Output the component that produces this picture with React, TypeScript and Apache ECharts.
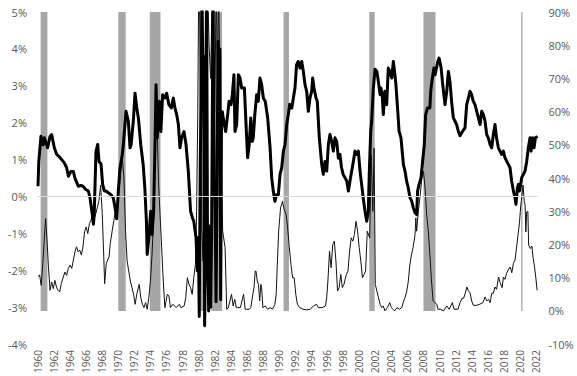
import React, { useEffect, useRef } from "react";
import * as echarts from "echarts";

// NBER recession months (decimal years)
const recessionStart = [1960.33, 1970.0, 1973.92, 1980.08, 1981.58, 1990.58, 2001.25, 2008.0, 2020.17];
const recessionEnd = [1961.17, 1970.92, 1975.25, 1980.58, 1982.92, 1991.25, 2001.92, 2009.5, 2020.33];

// Thick line: yield spread (left axis, %)
const spread: [number, number][] = [
  [1960.0, 0.28], [1960.1, 0.95], [1960.37, 1.63], [1960.66, 1.4], [1960.8, 1.59], [1961.2, 1.32], [1961.5, 1.63],
  [1961.7, 1.68], [1962.03, 1.32], [1962.33, 1.14], [1962.6, 1.09], [1962.95, 1.0], [1963.28, 0.91], [1963.57, 0.78],
  [1963.78, 0.55], [1964.1, 0.68], [1964.4, 0.68], [1964.6, 0.5], [1965.02, 0.28], [1965.35, 0.3], [1965.6, 0.28],
  [1965.94, 0.19], [1966.27, 0.15], [1966.48, -0.04], [1966.77, -0.5], [1966.9, -0.75], [1967.0, -0.49],
  [1967.22, 1.22], [1967.43, 1.41], [1967.6, 0.95], [1967.85, 0.88], [1968.05, 0.33], [1968.26, 0.15],
  [1968.46, 0.15], [1968.76, 0.1], [1969.09, 0.05], [1969.38, -0.04], [1969.59, -0.3], [1969.8, -0.6],
  [1970.0, 0.14], [1970.2, 0.75], [1970.5, 1.14], [1970.63, 1.41], [1970.96, 2.31], [1971.25, 2.04],
  [1971.46, 1.32], [1971.6, 1.41], [1971.87, 2.04], [1972.08, 2.8], [1972.3, 2.4], [1972.5, 2.13],
  [1972.79, 1.41], [1973.1, 0.86], [1973.3, 0.24], [1973.5, -0.67], [1973.6, -1.57], [1973.8, -1.12],
  [1974.03, -0.4], [1974.2, -1.03], [1974.4, -0.4], [1974.57, 1.41], [1974.7, 3.03], [1974.85, 1.59],
  [1975.1, 2.58], [1975.3, 1.76], [1975.52, 2.76], [1975.8, 2.67], [1976.02, 2.8], [1976.3, 2.49],
  [1976.6, 2.4], [1976.85, 2.67], [1977.05, 2.4], [1977.27, 2.22], [1977.48, 1.95], [1977.68, 1.32],
  [1977.88, 1.59], [1978.18, 1.76], [1978.43, 1.41], [1978.72, 0.68], [1979.0, -0.4], [1979.24, -0.58],
  [1979.4, -0.67], [1979.68, -1.12], [1979.84, -2.02], [1979.92, -1.12],
  [1980.0, -1.8], [1980.08, -3.25], [1980.2, 0.8], [1980.3, 2.5], [1980.42, 5.5], [1980.55, 3.0],
  [1980.65, 3.8], [1980.75, -3.5], [1980.88, -1.0], [1981.0, 5.5], [1981.1, -0.7], [1981.25, -3.1],
  [1981.35, -0.8], [1981.5, -3.0], [1981.62, -1.0], [1981.8, 5.5], [1981.92, 0.5], [1982.05, -0.1],
  [1982.17, -2.85], [1982.3, 0.5], [1982.42, 4.2], [1982.55, 1.0], [1982.65, 4.0], [1982.75, -2.8],
  [1982.85, 2.0], [1982.95, 2.3],
  [1983.2, 1.95], [1983.37, 1.76], [1983.62, 2.22], [1983.79, 2.58], [1984.04, 2.49], [1984.2, 2.76],
  [1984.4, 3.3], [1984.53, 1.76], [1984.74, 1.95], [1984.95, 3.3], [1985.15, 3.22], [1985.36, 2.94],
  [1985.7, 2.94], [1985.85, 2.22], [1986.1, 1.05], [1986.3, 1.41], [1986.5, 2.13], [1986.67, 1.49],
  [1986.8, 1.58], [1987.0, 2.22], [1987.23, 2.76], [1987.43, 2.58], [1987.64, 3.21], [1987.85, 3.03],
  [1988.06, 2.67], [1988.3, 2.58], [1988.6, 2.13], [1988.9, 1.32], [1989.1, 0.51], [1989.3, 0.14],
  [1989.5, -0.13], [1989.7, 0.05], [1989.93, 0.05], [1990.14, 0.6], [1990.35, 0.78], [1990.55, 1.22],
  [1990.76, 1.41], [1990.97, 1.95], [1991.17, 2.22], [1991.35, 2.5], [1991.6, 2.4], [1992.0, 2.94],
  [1992.2, 3.57], [1992.4, 3.66], [1992.63, 3.48], [1992.84, 3.66], [1993.04, 3.39], [1993.25, 3.03],
  [1993.46, 2.85], [1993.66, 2.31], [1993.87, 2.67], [1994.08, 2.85], [1994.2, 3.21], [1994.37, 2.94],
  [1994.62, 2.67], [1994.78, 2.58], [1995.03, 1.59], [1995.33, 0.87], [1995.53, 0.6], [1995.74, 0.95],
  [1995.95, 0.69], [1996.16, 1.41], [1996.36, 1.68], [1996.57, 1.49], [1996.77, 1.23], [1996.98, 1.59],
  [1997.2, 1.49], [1997.4, 1.04], [1997.6, 1.14], [1997.8, 0.78], [1998.0, 0.6], [1998.23, 0.51],
  [1998.44, 0.42], [1998.65, 0.15], [1998.85, 0.42], [1999.06, 0.69], [1999.27, 0.95], [1999.47, 1.23],
  [1999.68, 1.14], [1999.89, 1.23], [2000.1, 0.69], [2000.3, 0.33], [2000.5, -0.04], [2000.72, -0.4],
  [2000.93, -0.67], [2001.13, -0.4], [2001.26, 0.69], [2001.43, 1.77], [2001.55, 2.04], [2001.76, 2.94],
  [2001.97, 3.45], [2002.2, 3.39], [2002.38, 3.12], [2002.6, 2.76], [2002.7, 2.94], [2002.86, 2.76],
  [2003.0, 2.22], [2003.2, 2.85], [2003.42, 2.49], [2003.62, 3.48], [2003.82, 3.39], [2004.05, 3.21],
  [2004.25, 3.66], [2004.45, 3.3], [2004.57, 3.03], [2004.8, 2.31], [2004.96, 1.77], [2005.2, 1.59],
  [2005.5, 0.87], [2005.7, 0.69], [2005.9, 0.42], [2006.1, 0.24], [2006.33, -0.04], [2006.5, -0.1],
  [2006.74, -0.31], [2006.95, -0.44], [2007.15, -0.49], [2007.27, 0.15], [2007.45, 0.33], [2007.7, 0.51],
  [2007.86, 0.87], [2008.1, 1.41], [2008.27, 2.22], [2008.5, 2.4], [2008.8, 2.4], [2008.9, 2.85],
  [2009.05, 3.12], [2009.3, 3.48], [2009.45, 3.3], [2009.78, 3.66], [2009.95, 3.75], [2010.2, 3.48],
  [2010.4, 3.03], [2010.68, 2.49], [2010.9, 2.85], [2011.1, 3.39], [2011.3, 3.12], [2011.5, 2.58],
  [2011.72, 2.13], [2011.93, 2.04], [2012.13, 1.95], [2012.34, 1.77], [2012.55, 1.65], [2012.88, 1.77],
  [2013.17, 1.86], [2013.38, 2.49], [2013.6, 2.67], [2013.8, 2.85], [2014.0, 2.76], [2014.2, 2.58],
  [2014.42, 2.49], [2014.63, 2.31], [2014.84, 2.13], [2015.05, 1.95], [2015.25, 2.31], [2015.46, 2.22],
  [2015.67, 2.04], [2015.87, 1.68], [2016.08, 1.59], [2016.29, 1.41], [2016.5, 1.32], [2016.7, 1.68],
  [2016.91, 1.95], [2017.1, 1.59], [2017.33, 1.32], [2017.53, 1.23], [2017.74, 1.14], [2017.95, 1.23],
  [2018.15, 1.05], [2018.36, 0.96], [2018.57, 0.87], [2018.78, 0.78], [2018.98, 0.42], [2019.2, 0.15],
  [2019.4, -0.04], [2019.52, -0.21], [2019.7, 0.24], [2019.82, 0.33], [2019.95, 0.15], [2020.1, 0.33],
  [2020.23, 0.51], [2020.44, 0.6], [2020.65, 0.69], [2020.85, 0.95], [2021.06, 1.32], [2021.27, 1.59],
  [2021.4, 1.23], [2021.6, 1.59], [2021.77, 1.32], [2021.94, 1.59], [2022.2, 1.63],
];

// Thin line: recession probability (right axis, %)
const probability: [number, number][] = [
  [1960.0, 10.4], [1960.2, 10.8], [1960.4, 7.7], [1960.6, 14.3], [1960.8, 22.3], [1960.95, 27.8], [1961.1, 22.3],
  [1961.3, 13.3], [1961.5, 6.2], [1961.7, 8.7], [1961.9, 6.7], [1962.1, 9.2], [1962.3, 7.2], [1962.5, 6.2],
  [1962.7, 5.7], [1962.9, 8.2], [1963.15, 10.2], [1963.36, 11.7], [1963.57, 10.7], [1963.78, 12.8],
  [1964.0, 13.8], [1964.2, 12.8], [1964.4, 15.3], [1964.6, 17.8], [1964.8, 19.3], [1965.0, 17.8],
  [1965.2, 18.3], [1965.4, 16.8], [1965.6, 19.3], [1965.8, 23.8], [1966.0, 25.3], [1966.2, 23.3],
  [1966.4, 26.3], [1966.6, 27.3], [1966.8, 29.3], [1967.0, 27.8], [1967.2, 29.3], [1967.4, 31.3],
  [1967.6, 33.3], [1967.8, 37.9], [1968.0, 29.3], [1968.15, 19.3], [1968.3, 8.2], [1968.5, 14.3],
  [1968.85, 16.3], [1969.0, 20.3], [1969.25, 24.3], [1969.45, 27.3], [1969.65, 30.3], [1969.85, 31.3],
  [1970.1, 36.3], [1970.3, 42], [1970.5, 46], [1970.7, 40], [1970.9, 24], [1971.1, 15], [1971.3, 12],
  [1971.5, 9], [1971.7, 7], [1971.9, 5], [1972.1, 2], [1972.3, 5], [1972.6, 8], [1972.8, 4], [1973.0, 2],
  [1973.2, 1], [1973.4, 2.5], [1973.6, 0.5], [1973.8, 4], [1974.0, 9], [1974.2, 17], [1974.4, 28],
  [1974.55, 50], [1974.7, 66], [1974.85, 55], [1975.0, 39], [1975.2, 29], [1975.4, 19], [1975.6, 9],
  [1975.8, 1], [1976.1, 5], [1976.3, 4.5], [1976.5, 1], [1976.8, 2], [1977.2, 1], [1977.6, 2], [1977.8, 1],
  [1978.2, 1.5], [1978.4, 4], [1978.6, 10], [1978.8, 8], [1979.0, 7], [1979.2, 5], [1979.4, 10],
  [1979.6, 14], [1979.75, 30], [1979.9, 60], [1980.0, 95], [1980.1, 98], [1980.25, 60], [1980.4, 25],
  [1980.55, 15], [1980.7, 40], [1980.85, 90], [1981.0, 70], [1981.15, 95], [1981.3, 80], [1981.5, 70],
  [1981.7, 98], [1981.85, 80], [1982.0, 60], [1982.2, 98], [1982.35, 70], [1982.5, 98], [1982.7, 60],
  [1982.85, 40], [1983.0, 24], [1983.3, 19], [1983.5, 0.5], [1983.7, 1], [1983.9, 3], [1984.1, 5],
  [1984.3, 1.5], [1984.5, 3.5], [1984.7, 1], [1984.9, 1], [1985.2, 1], [1985.4, 3], [1985.6, 5],
  [1985.8, 0.5], [1986.0, 0.5], [1986.3, 0.5], [1986.5, 1], [1986.7, 4.2], [1986.9, 7], [1987.05, 12],
  [1987.15, 12], [1987.3, 9], [1987.45, 8], [1987.6, 3], [1987.75, 8], [1987.85, 7], [1988.0, 1],
  [1988.3, 1.5], [1988.6, 0.5], [1988.9, 1], [1989.2, 0.5], [1989.5, 2], [1989.66, 5], [1989.8, 14],
  [1989.97, 24], [1990.2, 31], [1990.45, 33], [1990.6, 31], [1990.9, 29], [1991.05, 26], [1991.3, 19],
  [1991.5, 14], [1991.7, 10], [1991.9, 10], [1992.1, 5], [1992.3, 2], [1992.6, 1], [1993.0, 0.5],
  [1993.46, 0.3], [1993.9, 0.5], [1994.3, 1.5], [1994.7, 2], [1994.9, 1], [1995.4, 1], [1995.8, 1.5],
  [1995.95, 4], [1996.1, 9], [1996.3, 18], [1996.5, 13], [1996.7, 20], [1996.9, 21], [1997.1, 15],
  [1997.3, 6], [1997.5, 7], [1997.7, 11], [1997.9, 7], [1998.1, 8], [1998.4, 11], [1998.6, 12],
  [1998.8, 18], [1999.0, 22], [1999.2, 21], [1999.4, 23], [1999.6, 27], [1999.8, 24], [2000.0, 19],
  [2000.2, 15], [2000.4, 10], [2000.6, 11], [2000.8, 12], [2001.0, 24], [2001.3, 22], [2001.5, 47],
  [2001.7, 30], [2001.85, 49], [2002.0, 8], [2002.2, 6], [2002.4, 4], [2002.6, 2], [2002.8, 1],
  [2003.0, 1.5], [2003.2, 0], [2003.5, 1], [2003.8, 2.5], [2004.0, 1], [2004.2, 0.5], [2004.4, 0],
  [2004.7, 1], [2005.0, 0.5], [2005.3, 1], [2005.5, 2.7], [2005.7, 4], [2005.9, 5.7], [2006.1, 8.7],
  [2006.3, 13.8], [2006.5, 16.8], [2006.7, 19], [2006.95, 23], [2007.05, 28], [2007.15, 24],
  [2007.36, 30], [2007.6, 35], [2007.8, 40], [2008.0, 42], [2008.2, 37], [2008.4, 29], [2008.6, 24],
  [2008.8, 17], [2009.0, 9], [2009.2, 3], [2009.4, 2.5], [2009.66, 2], [2009.8, 0.5], [2010.1, 0.5],
  [2010.5, 0], [2010.9, 1.5], [2011.2, 0.5], [2011.6, 2.5], [2011.8, 0.5], [2012.3, 0.5], [2012.55, 2.5],
  [2012.8, 3.8], [2013.0, 3.8], [2013.2, 5.3], [2013.4, 7.2], [2013.6, 6], [2013.8, 5.5], [2014.0, 3],
  [2014.2, 1.7], [2014.6, 1.7], [2015.0, 2], [2015.4, 2.5], [2015.67, 4.2], [2015.9, 3], [2016.1, 3.5],
  [2016.3, 2.5], [2016.5, 5.3], [2016.7, 5.3], [2016.9, 7.2], [2017.1, 6.5], [2017.35, 10.2],
  [2017.55, 8.5], [2017.8, 7], [2017.95, 10.2], [2018.15, 9.5], [2018.35, 11.3], [2018.55, 12.3],
  [2018.8, 13.2], [2019.0, 11.5], [2019.2, 14.3], [2019.4, 15.3], [2019.6, 19.3], [2019.8, 23.4],
  [2019.95, 26.4], [2020.1, 31.3], [2020.2, 33.3], [2020.4, 37.9], [2020.55, 33], [2020.66, 31.8],
  [2020.75, 23.8], [2020.85, 29.8], [2021.0, 30], [2021.1, 19.8], [2021.3, 18.8], [2021.5, 19.5],
  [2021.66, 15.8], [2021.8, 13.8], [2022.0, 9.8], [2022.15, 6.2],
];

const X_MIN = 1960;
const X_MAX = 2022.2;
const LABEL_COLOR = "#595959";
const FONT = "'Open Sans', sans-serif";

export default function App() {
  const ref = useRef<HTMLDivElement>(null);

  useEffect(() => {
    if (!ref.current) return;
    const chart = echarts.init(ref.current, undefined, { renderer: "svg" });
    chart.setOption({
      animation: false,
      backgroundColor: "#ffffff",
      textStyle: { fontFamily: FONT },
      grid: { left: 38, right: 39.5, top: 12, bottom: 31, containLabel: false },
      xAxis: {
        type: "value",
        min: X_MIN,
        max: X_MAX,
        interval: 2,
        axisLine: { show: false },
        axisTick: { show: false },
        splitLine: { show: false },
        axisLabel: {
          rotate: 90,
          margin: 6,
          color: LABEL_COLOR,
          fontSize: 10,
          fontFamily: FONT,
          showMaxLabel: false,
          formatter: (v: number) => (Math.abs(v - Math.round(v)) < 1e-6 && Math.round(v) % 2 === 0 ? String(Math.round(v)) : ""),
        },
      },
      yAxis: [
        {
          type: "value",
          min: -4,
          max: 5,
          interval: 1,
          position: "left",
          axisLine: { show: false },
          axisTick: { show: false },
          splitLine: { show: false },
          axisLabel: { margin: 11, color: LABEL_COLOR, fontSize: 11, fontFamily: FONT, formatter: (v: number) => `${v}%` },
        },
        {
          type: "value",
          min: -10,
          max: 90,
          interval: 10,
          position: "right",
          axisLine: { show: false },
          axisTick: { show: false },
          splitLine: { show: false },
          axisLabel: { margin: 11, color: LABEL_COLOR, fontSize: 11, fontFamily: FONT, formatter: (v: number) => `${v}%` },
        },
      ],
      series: [
        {
          type: "custom",
          name: "Recession",
          yAxisIndex: 1,
          encode: { x: [0, 1] },
          data: recessionStart.map((s, i) => [s, recessionEnd[i]]),
          renderItem: (_params: any, api: any) => {
            const top = api.coord([api.value(0), 90]);
            const bottom = api.coord([api.value(1), 0]);
            return {
              type: "rect",
              shape: { x: top[0], y: top[1], width: Math.max(bottom[0] - top[0], 1), height: bottom[1] - top[1] },
              style: { fill: "#a6a6a6" },
            };
          },
          z: 1,
        },
        {
          type: "line",
          name: "zero",
          yAxisIndex: 0,
          data: [],
          z: 2,
          markLine: {
            silent: true,
            symbol: "none",
            label: { show: false },
            lineStyle: { color: "#d9d9d9", width: 1, type: "solid" },
            data: [{ yAxis: 0 }],
          },
        },
        {
          type: "line",
          name: "Probability",
          yAxisIndex: 1,
          data: probability,
          showSymbol: false,
          symbol: "none",
          clip: true,
          lineStyle: { color: "#111111", width: 1 },
          z: 3,
        },
        {
          type: "line",
          name: "Spread",
          yAxisIndex: 0,
          data: spread,
          showSymbol: false,
          symbol: "none",
          clip: true,
          lineStyle: { color: "#000000", width: 3, join: "round" },
          z: 4,
        },
      ],
    });
    return () => chart.dispose();
  }, []);

  return (
    <div
      ref={ref}
      style={{ position: "absolute", left: 0, top: 0, width: 577, height: 376, background: "#fff" }}
    />
  );
}
